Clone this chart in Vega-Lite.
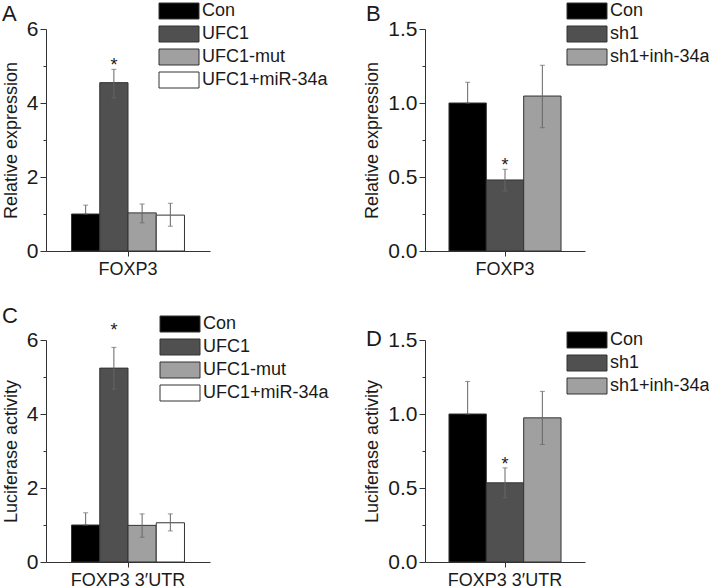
{
  "$schema": "https://vega.github.io/schema/vega-lite/v6.json",
  "background": "white",
  "padding": {"left": 2, "top": 2, "right": 0, "bottom": 0},
  "bounds": "flush",
  "spacing": {"row": 89, "column": 215},
  "columns": 2,
  "datasets": {
    "A": [
      {"gene": "FOXP3", "group": "Con", "value": 1.0, "lo": 1.0, "hi": 1.24, "sig": ""},
      {"gene": "FOXP3", "group": "UFC1", "value": 4.55, "lo": 4.14, "hi": 4.91, "sig": "*"},
      {"gene": "FOXP3", "group": "UFC1-mut", "value": 1.03, "lo": 0.76, "hi": 1.27, "sig": ""},
      {"gene": "FOXP3", "group": "UFC1+miR-34a", "value": 0.97, "lo": 0.67, "hi": 1.29, "sig": ""}
    ],
    "B": [
      {"gene": "FOXP3", "group": "Con", "value": 1.0, "lo": 1.0, "hi": 1.14, "sig": ""},
      {"gene": "FOXP3", "group": "sh1", "value": 0.48, "lo": 0.405, "hi": 0.552, "sig": "*"},
      {"gene": "FOXP3", "group": "sh1+inh-34a", "value": 1.047, "lo": 0.833, "hi": 1.255, "sig": ""}
    ],
    "C": [
      {"gene": "FOXP3 3′UTR", "group": "Con", "value": 1.0, "lo": 1.0, "hi": 1.33, "sig": ""},
      {"gene": "FOXP3 3′UTR", "group": "UFC1", "value": 5.24, "lo": 4.67, "hi": 5.8, "sig": "*"},
      {"gene": "FOXP3 3′UTR", "group": "UFC1-mut", "value": 0.99, "lo": 0.67, "hi": 1.3, "sig": ""},
      {"gene": "FOXP3 3′UTR", "group": "UFC1+miR-34a", "value": 1.06, "lo": 0.84, "hi": 1.3, "sig": ""}
    ],
    "D": [
      {"gene": "FOXP3 3′UTR", "group": "Con", "value": 1.0, "lo": 1.0, "hi": 1.22, "sig": ""},
      {"gene": "FOXP3 3′UTR", "group": "sh1", "value": 0.535, "lo": 0.434, "hi": 0.636, "sig": "*"},
      {"gene": "FOXP3 3′UTR", "group": "sh1+inh-34a", "value": 0.974, "lo": 0.794, "hi": 1.153, "sig": ""}
    ]
  },
  "concat": [
    {
      "width": 164, "height": 222,
      "data": {"name": "A"},
      "title": {"text": "A", "dx": -44, "dy": 28},
      "encoding": {
        "x": {"field": "gene", "type": "nominal", "scale": {"paddingInner": 0, "paddingOuter": 0.226}, "axis": {"title": null, "labelAngle": 0, "labelFontSize": 18, "tickSize": 5, "labelPadding": 4}},
        "xOffset": {"field": "group", "type": "nominal", "scale": {"domain": ["Con", "UFC1", "UFC1-mut", "UFC1+miR-34a"], "paddingInner": 0, "paddingOuter": 0}}
      },
      "layer": [
        {
          "mark": {"type": "bar", "stroke": "#333", "strokeWidth": 1},
          "encoding": {
            "y": {"field": "value", "type": "quantitative", "scale": {"domain": [0, 6], "nice": false}, "axis": {"values": [0, 2, 4, 6], "format": "d", "title": "Relative expression"}},
            "fill": {"field": "group", "type": "nominal", "scale": {"domain": ["Con", "UFC1", "UFC1-mut", "UFC1+miR-34a"], "range": ["#000000", "#505050", "#a0a0a0", "#ffffff"]},
              "legend": {"orient": "none", "legendX": 124, "legendY": -27}}
          }
        },
        {
          "mark": {"type": "rule", "color": "#666", "strokeWidth": 1},
          "encoding": {
            "y": {"field": "lo", "type": "quantitative", "scale": {"domain": [0, 6], "nice": false}, "axis": {"values": [1, 3, 5], "labels": false, "domain": false, "tickSize": 3, "title": null, "orient": "left"}},
            "y2": {"field": "hi"}
          }
        },
        {
          "mark": {"type": "tick", "color": "#666", "size": 5, "thickness": 1},
          "encoding": {"y": {"field": "hi", "type": "quantitative", "scale": {"domain": [0, 6], "nice": false}, "axis": null}}
        },
        {
          "mark": {"type": "tick", "color": "#666", "size": 5, "thickness": 1},
          "encoding": {"y": {"field": "lo", "type": "quantitative", "scale": {"domain": [0, 6], "nice": false}, "axis": null}}
        },
        {
          "mark": {"type": "text", "fontSize": 18, "baseline": "alphabetic", "dy": 2, "color": "#222"},
          "encoding": {"y": {"field": "hi", "type": "quantitative", "scale": {"domain": [0, 6], "nice": false}, "axis": null}, "text": {"field": "sig"}}
        }
      ],
      "resolve": {"axis": {"y": "independent"}}
    },
    {
      "width": 160, "height": 222,
      "data": {"name": "B"},
      "title": {"text": "B", "dx": -59, "dy": 28},
      "encoding": {
        "x": {"field": "gene", "type": "nominal", "scale": {"paddingInner": 0, "paddingOuter": 0.214}, "axis": {"title": null, "labelAngle": 0, "labelFontSize": 18, "tickSize": 5, "labelPadding": 4}},
        "xOffset": {"field": "group", "type": "nominal", "scale": {"domain": ["Con", "sh1", "sh1+inh-34a"], "paddingInner": 0, "paddingOuter": 0}}
      },
      "layer": [
        {
          "mark": {"type": "bar", "stroke": "#333", "strokeWidth": 1},
          "encoding": {
            "y": {"field": "value", "type": "quantitative", "scale": {"domain": [0, 1.5], "nice": false}, "axis": {"values": [0, 0.5, 1, 1.5], "format": ".1f", "title": "Relative expression"}},
            "fill": {"field": "group", "type": "nominal", "scale": {"domain": ["Con", "sh1", "sh1+inh-34a"], "range": ["#000000", "#505050", "#a0a0a0"]},
              "legend": {"orient": "none", "legendX": 153, "legendY": -27}}
          }
        },
        {
          "mark": {"type": "rule", "color": "#666", "strokeWidth": 1},
          "encoding": {
            "y": {"field": "lo", "type": "quantitative", "scale": {"domain": [0, 1.5], "nice": false}, "axis": {"values": [0.25, 0.75, 1.25], "labels": false, "domain": false, "tickSize": 3, "title": null, "orient": "left"}},
            "y2": {"field": "hi"}
          }
        },
        {
          "mark": {"type": "tick", "color": "#666", "size": 5, "thickness": 1},
          "encoding": {"y": {"field": "hi", "type": "quantitative", "scale": {"domain": [0, 1.5], "nice": false}, "axis": null}}
        },
        {
          "mark": {"type": "tick", "color": "#666", "size": 5, "thickness": 1},
          "encoding": {"y": {"field": "lo", "type": "quantitative", "scale": {"domain": [0, 1.5], "nice": false}, "axis": null}}
        },
        {
          "mark": {"type": "text", "fontSize": 18, "baseline": "alphabetic", "dy": 2, "color": "#222"},
          "encoding": {"y": {"field": "hi", "type": "quantitative", "scale": {"domain": [0, 1.5], "nice": false}, "axis": null}, "text": {"field": "sig"}}
        }
      ],
      "resolve": {"axis": {"y": "independent"}}
    },
    {
      "width": 164, "height": 222,
      "data": {"name": "C"},
      "title": {"text": "C", "dx": -44, "dy": 17},
      "encoding": {
        "x": {"field": "gene", "type": "nominal", "scale": {"paddingInner": 0, "paddingOuter": 0.226}, "axis": {"title": null, "labelAngle": 0, "labelFontSize": 18, "tickSize": 5, "labelPadding": 4}},
        "xOffset": {"field": "group", "type": "nominal", "scale": {"domain": ["Con", "UFC1", "UFC1-mut", "UFC1+miR-34a"], "paddingInner": 0, "paddingOuter": 0}}
      },
      "layer": [
        {
          "mark": {"type": "bar", "stroke": "#333", "strokeWidth": 1},
          "encoding": {
            "y": {"field": "value", "type": "quantitative", "scale": {"domain": [0, 6], "nice": false}, "axis": {"values": [0, 2, 4, 6], "format": "d", "title": "Luciferase activity"}},
            "fill": {"field": "group", "type": "nominal", "scale": {"domain": ["Con", "UFC1", "UFC1-mut", "UFC1+miR-34a"], "range": ["#000000", "#505050", "#a0a0a0", "#ffffff"]},
              "legend": {"orient": "none", "legendX": 125, "legendY": -25}}
          }
        },
        {
          "mark": {"type": "rule", "color": "#666", "strokeWidth": 1},
          "encoding": {
            "y": {"field": "lo", "type": "quantitative", "scale": {"domain": [0, 6], "nice": false}, "axis": {"values": [1, 3, 5], "labels": false, "domain": false, "tickSize": 3, "title": null, "orient": "left"}},
            "y2": {"field": "hi"}
          }
        },
        {
          "mark": {"type": "tick", "color": "#666", "size": 5, "thickness": 1},
          "encoding": {"y": {"field": "hi", "type": "quantitative", "scale": {"domain": [0, 6], "nice": false}, "axis": null}}
        },
        {
          "mark": {"type": "tick", "color": "#666", "size": 5, "thickness": 1},
          "encoding": {"y": {"field": "lo", "type": "quantitative", "scale": {"domain": [0, 6], "nice": false}, "axis": null}}
        },
        {
          "mark": {"type": "text", "fontSize": 18, "baseline": "alphabetic", "dy": -11, "color": "#222"},
          "encoding": {"y": {"field": "hi", "type": "quantitative", "scale": {"domain": [0, 6], "nice": false}, "axis": null}, "text": {"field": "sig"}}
        }
      ],
      "resolve": {"axis": {"y": "independent"}}
    },
    {
      "width": 160, "height": 222,
      "data": {"name": "D"},
      "title": {"text": "D", "dx": -59, "dy": 26},
      "encoding": {
        "x": {"field": "gene", "type": "nominal", "scale": {"paddingInner": 0, "paddingOuter": 0.214}, "axis": {"title": null, "labelAngle": 0, "labelFontSize": 18, "tickSize": 5, "labelPadding": 4}},
        "xOffset": {"field": "group", "type": "nominal", "scale": {"domain": ["Con", "sh1", "sh1+inh-34a"], "paddingInner": 0, "paddingOuter": 0}}
      },
      "layer": [
        {
          "mark": {"type": "bar", "stroke": "#333", "strokeWidth": 1},
          "encoding": {
            "y": {"field": "value", "type": "quantitative", "scale": {"domain": [0, 1.5], "nice": false}, "axis": {"values": [0, 0.5, 1, 1.5], "format": ".1f", "title": "Luciferase activity"}},
            "fill": {"field": "group", "type": "nominal", "scale": {"domain": ["Con", "sh1", "sh1+inh-34a"], "range": ["#000000", "#505050", "#a0a0a0"]},
              "legend": {"orient": "none", "legendX": 153, "legendY": -9}}
          }
        },
        {
          "mark": {"type": "rule", "color": "#666", "strokeWidth": 1},
          "encoding": {
            "y": {"field": "lo", "type": "quantitative", "scale": {"domain": [0, 1.5], "nice": false}, "axis": {"values": [0.25, 0.75, 1.25], "labels": false, "domain": false, "tickSize": 3, "title": null, "orient": "left"}},
            "y2": {"field": "hi"}
          }
        },
        {
          "mark": {"type": "tick", "color": "#666", "size": 5, "thickness": 1},
          "encoding": {"y": {"field": "hi", "type": "quantitative", "scale": {"domain": [0, 1.5], "nice": false}, "axis": null}}
        },
        {
          "mark": {"type": "tick", "color": "#666", "size": 5, "thickness": 1},
          "encoding": {"y": {"field": "lo", "type": "quantitative", "scale": {"domain": [0, 1.5], "nice": false}, "axis": null}}
        },
        {
          "mark": {"type": "text", "fontSize": 18, "baseline": "alphabetic", "dy": 2, "color": "#222"},
          "encoding": {"y": {"field": "hi", "type": "quantitative", "scale": {"domain": [0, 1.5], "nice": false}, "axis": null}, "text": {"field": "sig"}}
        }
      ],
      "resolve": {"axis": {"y": "independent"}}
    }
  ],
  "resolve": {"scale": {"fill": "independent", "xOffset": "independent", "x": "independent", "y": "independent"}, "legend": {"fill": "independent"}},
  "config": {
    "font": "Liberation Sans",
    "view": {"stroke": null},
    "axis": {"labelFont": "Liberation Sans", "titleFont": "Liberation Sans", "labelFontSize": 21, "titleFontSize": 18, "titleFontWeight": "normal", "labelColor": "#1a1a1a", "titleColor": "#1a1a1a", "domainColor": "#333", "tickColor": "#333", "grid": false, "tickSize": 6, "labelPadding": 2, "titlePadding": 6},
    "legend": {"title": null, "symbolType": "M-2.5,-1H2.5V1H-2.5Z", "symbolSize": 256, "symbolStrokeColor": "#333", "symbolStrokeWidth": 1, "symbolOpacity": 1, "labelFont": "Liberation Sans", "labelFontSize": 18, "labelColor": "#1a1a1a", "labelOffset": 14, "rowPadding": 3},
    "title": {"font": "Liberation Sans", "fontSize": 22, "fontWeight": "normal", "anchor": "start", "frame": "group", "color": "#1a1a1a", "offset": 0}
  }
}
